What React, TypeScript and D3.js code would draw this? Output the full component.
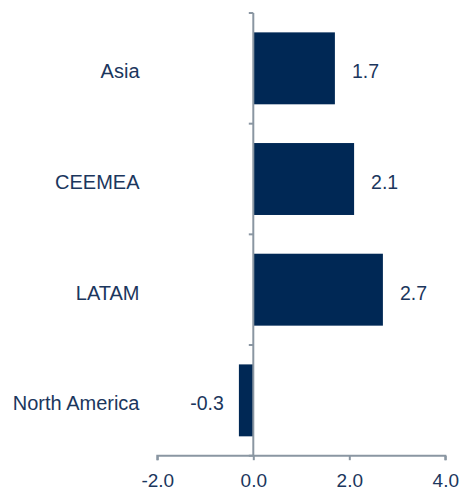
import React, { useEffect, useRef } from "react";
import * as d3 from "d3";

const categories = ["Asia", "CEEMEA", "LATAM", "North America"];
const values = [1.7, 2.1, 2.7, -0.3];
const xTicks = [-2, 0, 2, 4];

const W = 462;
const H = 488;
const TEXT = "#1b365d";
const BAR = "#002855";
const AXIS = "#8a96a2";
const FONT = "'Liberation Sans', Arial, sans-serif";

export default function App() {
  const ref = useRef<SVGSVGElement>(null);
  useEffect(() => {
    const svg = d3.select(ref.current);
    svg.selectAll("*").remove();
    const x = d3.scaleLinear().domain([-2, 4]).range([157.3, 445.3]);
    const y = d3.scaleBand().domain(categories).range([13, 455.7]).paddingInner(0.35).paddingOuter(0.175);
    const band = d3.scaleBand().domain(categories).range([13, 455.7]);

    svg
      .append("g")
      .selectAll("rect")
      .data(values)
      .join("rect")
      .attr("x", (d) => x(Math.min(0, d)))
      .attr("width", (d) => Math.abs(x(d) - x(0)))
      .attr("y", (_, i) => y(categories[i])!)
      .attr("height", y.bandwidth())
      .attr("fill", BAR);

    // value labels
    svg
      .append("g")
      .selectAll("text")
      .data(values)
      .join("text")
      .attr("x", (d) => (d >= 0 ? x(d) + 17 : x(d) - 15))
      .attr("y", (_, i) => y(categories[i])! + y.bandwidth() / 2 + 10)
      .attr("text-anchor", (d) => (d >= 0 ? "start" : "end"))
      .attr("font-family", FONT)
      .attr("font-size", 19.5)
      .attr("fill", TEXT)
      .text((d) => d.toFixed(1));

    // category labels
    svg
      .append("g")
      .selectAll("text")
      .data(categories)
      .join("text")
      .attr("x", 139.5)
      .attr("y", (c) => y(c)! + y.bandwidth() / 2 + 10)
      .attr("text-anchor", "end")
      .attr("font-family", FONT)
      .attr("font-size", 20)
      .attr("fill", TEXT)
      .text((c) => c);

    // vertical axis at zero
    const yAxisG = svg.append("g");
    yAxisG
      .append("line")
      .attr("x1", x(0))
      .attr("x2", x(0))
      .attr("y1", 13)
      .attr("y2", 455.7)
      .attr("stroke", AXIS)
      .attr("stroke-width", 2);
    const catTicks = [...categories.map((c) => band(c)!), 455.7];
    yAxisG
      .selectAll("line.t")
      .data(catTicks)
      .join("line")
      .attr("class", "t")
      .attr("x1", x(0) - 4.5)
      .attr("x2", x(0))
      .attr("y1", (d) => d)
      .attr("y2", (d) => d)
      .attr("stroke", AXIS)
      .attr("stroke-width", 2);

    // bottom axis
    const xAxis = d3
      .axisBottom(x)
      .tickValues(xTicks)
      .tickSize(4.5)
      .tickFormat((d) => (d as number).toFixed(1));
    const gx = svg.append("g").attr("transform", "translate(0,455.7)").call(xAxis);
    gx.select(".domain").attr("stroke", AXIS).attr("stroke-width", 2).attr("d", `M${x(-2)},4.5V0H${x(4)}V4.5`);
    gx.selectAll(".tick line").attr("stroke", AXIS).attr("stroke-width", 2);
    gx.selectAll(".tick text")
      .attr("font-family", FONT)
      .attr("font-size", 19)
      .attr("fill", TEXT)
      .attr("dy", null)
      .attr("y", 31.5);
  }, []);

  return (
    <svg
      ref={ref}
      width={W}
      height={H}
      style={{ position: "absolute", left: 0, top: 0, background: "#fff" }}
    />
  );
}
